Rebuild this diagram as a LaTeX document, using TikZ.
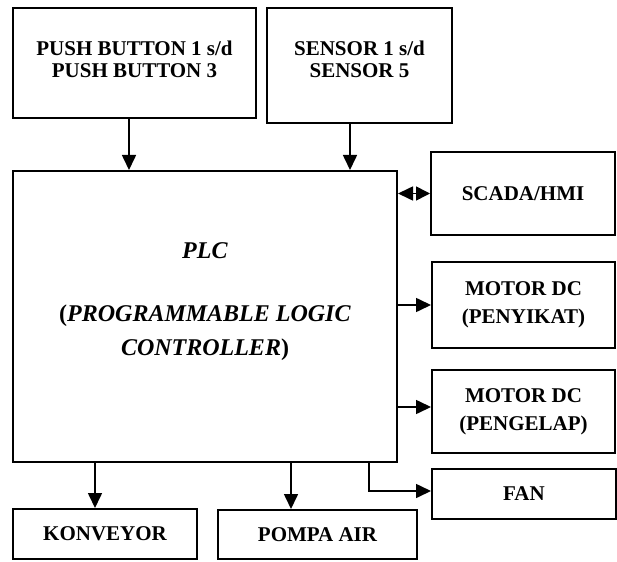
\documentclass[tikz,border=0pt]{standalone}
\usepackage{fontspec}
\setmainfont{Liberation Serif}
\usetikzlibrary{arrows.meta,calc}
\begin{document}
\begin{tikzpicture}[x=1pt,y=-1pt,
  box/.style={draw,line width=2pt,inner sep=0pt,align=center,
    font=\fontsize{21}{22}\selectfont\bfseries},
  txt/.style={inner sep=0pt,align=center,font=\fontsize{21}{22}\selectfont\bfseries},
  conn/.style={line width=1.6pt,-{Triangle[length=15pt,width=14pt]}},
  bconn/.style={line width=1.6pt,{Triangle[length=15pt,width=14pt]}-{Triangle[length=14pt,width=14pt]}},
]
\useasboundingbox (0,0) rectangle (617,561);

\node[box,minimum width=243pt,minimum height=110pt] (pb) at (134.5,63) {};
\node[txt] (pbt) at (134.5,59.5) {PUSH BUTTON 1 s/d\\PUSH BUTTON 3};
\node[box,minimum width=185pt,minimum height=115pt] (sen) at (359.5,65.5) {};
\node[txt] (sent) at (359.5,59.5) {SENSOR 1 s/d\\SENSOR 5};

\node[box,minimum width=384pt,minimum height=291pt] (plc) at (205,316.5) {};
\node[txt,font=\fontsize{24}{34}\selectfont\bfseries] (plct) at (205,302)
  {\textit{PLC}\\[29pt](\textit{PROGRAMMABLE LOGIC}\\\textit{CONTROLLER})};

\node[box,minimum width=184pt,minimum height=83pt] (scada) at (523,193.5) {SCADA/HMI};
\node[box,font=\fontsize{21}{28}\selectfont\bfseries,minimum width=183pt,minimum height=86pt] (pen) at (523.5,305) {MOTOR DC\\(PENYIKAT)};
\node[box,font=\fontsize{21}{28}\selectfont\bfseries,minimum width=183pt,minimum height=83pt] (pel) at (523.5,411.5) {MOTOR DC\\(PENGELAP)};
\node[box,minimum width=184pt,minimum height=50pt] (fan) at (524,494) {FAN};
\node[box,minimum width=184pt,minimum height=50pt] (kon) at (105,534) {KONVEYOR};
\node[box,minimum width=199pt,minimum height=49pt] (pom) at (317.5,534.5) {POMPA AIR};

\coordinate (pelin) at ([yshift=4.5pt]pel.west);
\coordinate (fanin) at ([yshift=3pt]fan.west);

\draw[conn] ([xshift=-5.5pt]pb.south) -- ([xshift=-5.5pt]pb.south |- plc.north);
\draw[conn] ([xshift=-9.5pt]sen.south) -- ([xshift=-9.5pt]sen.south |- plc.north);
\draw[bconn] (plc.east |- scada.west) -- (scada.west);
\draw[conn] (plc.east |- pen.west) -- (pen.west);
\draw[conn] (plc.east |- pelin) -- (pelin);
\draw[conn] ([xshift=-10pt]kon.north |- plc.south) -- ([xshift=-10pt]kon.north);
\draw[conn] ([xshift=-26.5pt]pom.north |- plc.south) -- ([xshift=-26.5pt]pom.north);
\draw[conn] ([xshift=-29pt]plc.south east) |- (fanin);
\end{tikzpicture}
\end{document}
